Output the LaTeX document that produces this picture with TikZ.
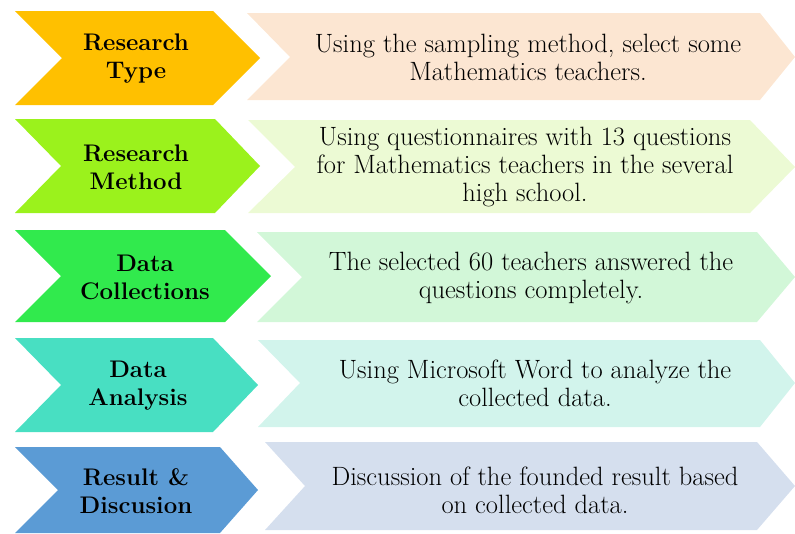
\documentclass[tikz,border=0pt]{standalone}
\definecolor{lA}{HTML}{FFC000}\definecolor{rA}{HTML}{FCE6D2}
\definecolor{lB}{HTML}{9BF21C}\definecolor{rB}{HTML}{ECFAD4}
\definecolor{lC}{HTML}{31EA4D}\definecolor{rC}{HTML}{D2F7D8}
\definecolor{lD}{HTML}{48DFC2}\definecolor{rD}{HTML}{D2F4EC}
\definecolor{lE}{HTML}{5B9BD5}\definecolor{rE}{HTML}{D5DFEE}
\tikzset{
  lab/.style={align=center,font=\bfseries\fontsize{24}{28}\selectfont,inner sep=0pt},
  desc/.style={align=center,font=\fontsize{26.5}{28}\selectfont,inner sep=0pt}
}
\begin{document}
\begin{tikzpicture}[x=1pt,y=-1pt]
\useasboundingbox (0,0) rectangle (795,533);
% row 1
\fill[lA] (15,11)--(213,11)--(260,58)--(213,105)--(15,105)--(62,58)--cycle;
\fill[rA] (247,13)--(760,13)--(795,57)--(760,100)--(247,100)--(290,57)--cycle;
\node[lab] (l1) at (136,59) {Research\\Type};
\node[desc] (r1) at (528,57) {Using the sampling method, select some\\Mathematics teachers.};
% row 2
\fill[lB] (15,119)--(215,119)--(260,166)--(215,213)--(15,213)--(61,166)--cycle;
\fill[rB] (248,120)--(750,120)--(795,167)--(750,213)--(248,213)--(295,167)--cycle;
\node[lab] (l2) at (136,167) {Research\\Method};
\node[desc] (r2) at (525,167) {Using questionnaires with 13 questions\\for Mathematics teachers in the several\\high school.};
% row 3
\fill[lC] (15,230)--(225,230)--(271,276)--(225,322)--(15,322)--(61,276)--cycle;
\fill[rC] (257,232)--(757,232)--(795,277)--(757,322)--(257,322)--(302,277)--cycle;
\node[lab] (l3) at (145,277) {Data\\Collections};
\node[desc] (r3) at (531,278) {The selected 60 teachers answered the\\questions completely.};
% row 4
\fill[lD] (15,338)--(213,338)--(258,385)--(213,432)--(15,432)--(61,385)--cycle;
\fill[rD] (258,340)--(760,340)--(795,383)--(760,427)--(258,427)--(300,383)--cycle;
\node[lab] (l4) at (138,386) {Data\\Analysis};
\node[desc] (r4) at (535,383) {Using Microsoft Word to analyze the\\collected data.};
% row 5
\fill[lE] (15,447)--(220,447)--(258,490)--(220,533)--(15,533)--(58,490)--cycle;
\fill[rE] (265,442)--(757,442)--(795,486)--(757,530)--(265,530)--(305,486)--cycle;
\node[lab] (l5) at (136,491) {Result \&\\Discusion};
\node[desc] (r5) at (535,490) {Discussion of the founded result based\\on collected data.};
\end{tikzpicture}
\end{document}
